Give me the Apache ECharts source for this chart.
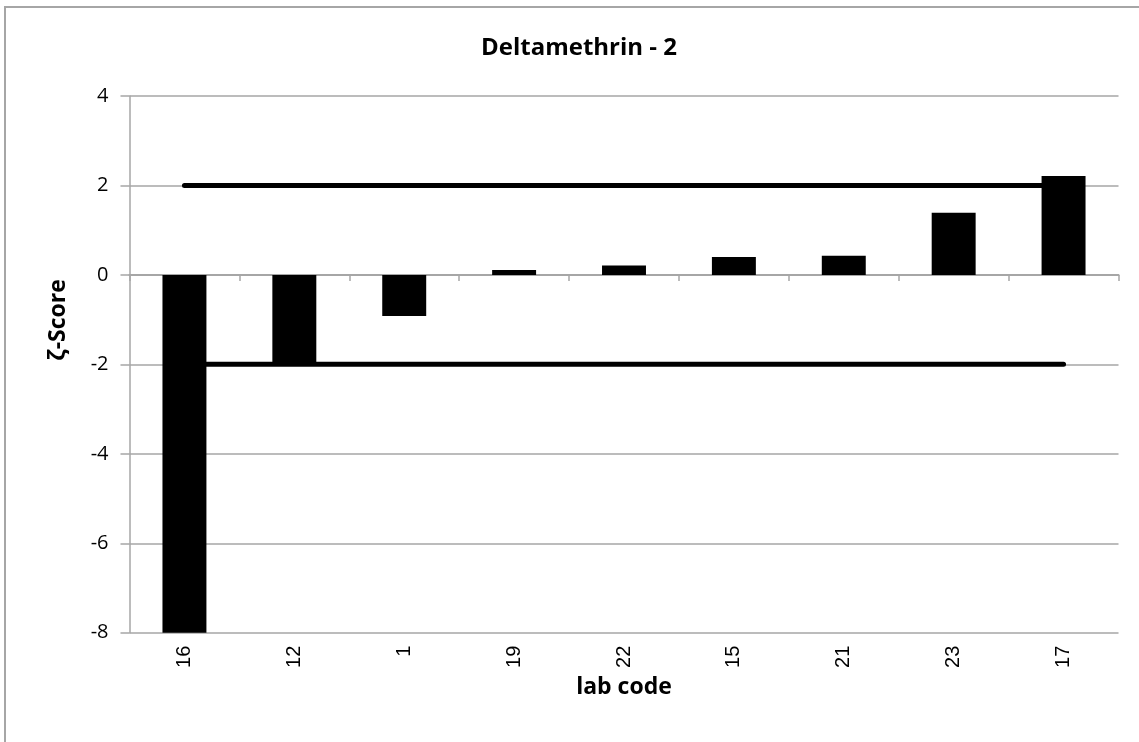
<!DOCTYPE html>
<html>
<head>
<meta charset="utf-8">
<script src="https://cdn.jsdelivr.net/npm/echarts@6/dist/echarts.min.js"></script>
<style>
html,body{margin:0;padding:0;background:#fff;}
#frame{position:absolute;left:4px;top:6px;width:1200px;height:800px;border-left:2px solid #a6a6a6;border-top:2px solid #a6a6a6;}
#chart{position:absolute;left:0;top:0;width:1139px;height:742px;}
</style>
</head>
<body>
<div id="frame"></div>
<div id="chart"></div>
<script>
const labCodes = ['16','12','1','19','22','15','21','23','17'];
const zScores = [-8.1, -1.98, -0.92, 0.11, 0.21, 0.4, 0.43, 1.39, 2.21];
const upperLimit = [2,2,2,2,2,2,2,2,2];
const lowerLimit = [-2,-2,-2,-2,-2,-2,-2,-2,-2];
const yTicks = {min: -8, max: 4, interval: 2};

const chart = echarts.init(document.getElementById('chart'), null, {renderer:'canvas'});
const gray = '#a6a6a6';
chart.setOption({
  backgroundColor: 'transparent',
  animation: false,
  title: {
    text: 'Deltamethrin - 2',
    left: 574, top: 31, textAlign: 'center',
    textStyle: {fontFamily: 'Open Sans', fontWeight: 'bold', fontSize: 24, color: '#000'}
  },
  graphic: [{
    type: 'text',
    x: 58, y: 320, rotation: Math.PI/2,
    style: {text: 'ζ-Score', fontFamily: 'Open Sans', fontWeight: 'bold', fontSize: 23, fill: '#000', textAlign: 'center', textVerticalAlign: 'middle'}
  }],
  grid: {left: 129.5, right: 20.5, top: 96, bottom: 109.3, containLabel: false},
  xAxis: [{
    type: 'category', data: labCodes, position: 'bottom',
    axisLine: {onZero: true, lineStyle: {color: gray, width: 2}},
    axisTick: {show: true, length: 6, lineStyle: {color: gray, width: 1.5}},
    axisLabel: {show: false},
    splitLine: {show: false}
  },{
    type: 'category', data: labCodes, position: 'bottom',
    axisLine: {show: false, onZero: false},
    axisTick: {show: false},
    axisLabel: {rotate: 90, margin: 13, fontFamily: 'Liberation Sans', fontSize: 20, color: '#000'},
    name: 'lab code', nameLocation: 'middle', nameGap: 36,
    nameTextStyle: {fontFamily: 'Open Sans', fontWeight: 'bold', fontSize: 23, color: '#000'}
  }],
  yAxis: {
    type: 'value', min: yTicks.min, max: yTicks.max, interval: yTicks.interval,
    axisLine: {show: true, lineStyle: {color: gray, width: 1.5}},
    axisTick: {show: true, length: 9, lineStyle: {color: gray, width: 1.5}},
    axisLabel: {margin: 21, fontFamily: 'Open Sans', fontSize: 20, color: '#000'},
    splitLine: {show: true, lineStyle: {color: gray, width: 1.5}}
  },
  series: [{
    type: 'line', data: upperLimit, xAxisIndex: 0, symbol: 'none', z: 1,
    lineStyle: {color: '#000', width: 5, cap: 'round'}, silent: true
  },{
    type: 'line', data: lowerLimit, xAxisIndex: 0, symbol: 'none', z: 1,
    lineStyle: {color: '#000', width: 5, cap: 'round'}, silent: true
  },{
    type: 'bar', data: zScores, xAxisIndex: 0, barWidth: '40%', z: 5, clip: true,
    itemStyle: {color: '#000'}
  }]
});
</script>
</body>
</html>
